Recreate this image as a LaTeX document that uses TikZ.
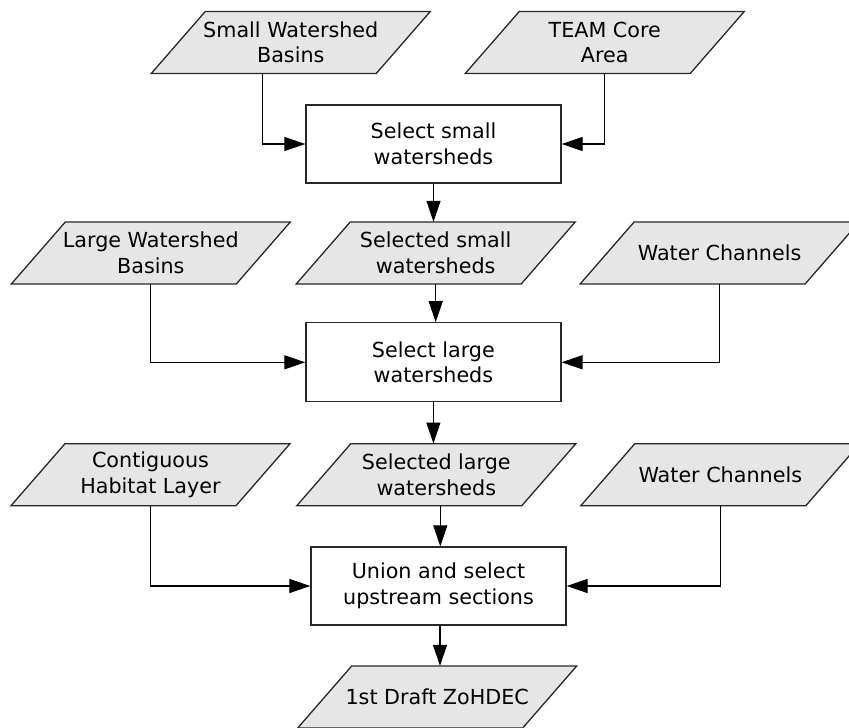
\documentclass[tikz,border=0pt]{standalone}
\usepackage{fontspec}
\setmainfont{DejaVu Sans}
\usetikzlibrary{arrows.meta}
\definecolor{parafill}{RGB}{230,230,230}
\definecolor{edge}{RGB}{40,40,40}
\tikzset{
  paratext/.style={minimum width=279pt, minimum height=62pt, inner sep=0pt, align=center,
    font=\fontsize{20.7}{25.5}\selectfont},
  parashape/.style={fill=parafill, draw=edge, line width=1.3pt, line join=miter},
  procbox/.style={draw=edge, fill=white, line width=1.3pt, minimum width=255pt, minimum height=78pt,
    inner sep=0pt, align=center, font=\fontsize{20.7}{25.5}\selectfont},
  arr/.style={draw=black, line width=1.2pt, -{Triangle[length=21pt,width=14pt]}}
}
\newcommand\paranode[4]{%
  \filldraw[parashape, shift={(#2,#3)}] (-85.5,-31) -- (139.5,-31) -- (85.5,31) -- (-139.5,31) -- cycle;
  \node[paratext] (#1) at (#2,#3) {#4};
}
\begin{document}
\begin{tikzpicture}[x=1pt,y=-1pt]
\useasboundingbox (0,0) rectangle (849,728);
% row 1
\paranode{sws}{290.75}{42.5}{Small Watershed\\Basins}
\paranode{team}{604.75}{42.5}{TEAM Core\\Area}
\node[procbox] (box1) at (433.5,144) {Select small\\watersheds};
% row 2
\paranode{lwb}{150.8}{253}{Large Watershed\\Basins}
\paranode{ssw}{435.7}{253}{Selected small\\watersheds}
\paranode{wca}{719.6}{253}{Water Channels}
\node[procbox, minimum height=79pt] (box2) at (433.4,362.3) {Select large\\watersheds};
% row 3
\paranode{chl}{150.5}{474.7}{Contiguous\\Habitat Layer}
\paranode{slw}{436.3}{474.7}{Selected large\\watersheds}
\paranode{wcb}{720.3}{474.7}{Water Channels}
\node[procbox] (box3) at (438.5,586) {Union and select\\upstream sections};
% output
\paranode{draft}{437.2}{697}{1st Draft ZoHDEC}
% connectors
\draw[arr] ([xshift=-28pt]sws.south) |- (box1.west);
\draw[arr] (team.south) |- (box1.east);
\draw[arr] (box1.south) -- (box1.south |- ssw.north);
\draw[arr] (lwb.south) |- (box2.west);
\draw[arr] (wca.south) |- (box2.east);
\draw[arr] (ssw.south) -- (ssw.south |- box2.north);
\draw[arr] (box2.south) -- (box2.south |- slw.north);
\draw[arr] (chl.south) |- (box3.west);
\draw[arr] (wcb.south) |- (box3.east);
\draw[arr] ([xshift=4pt]slw.south) -- ([xshift=4pt]slw.south |- box3.north);
\draw[arr] ([xshift=1.5pt]box3.south) -- ([xshift=1.5pt]box3.south |- draft.north);
\end{tikzpicture}
\end{document}
